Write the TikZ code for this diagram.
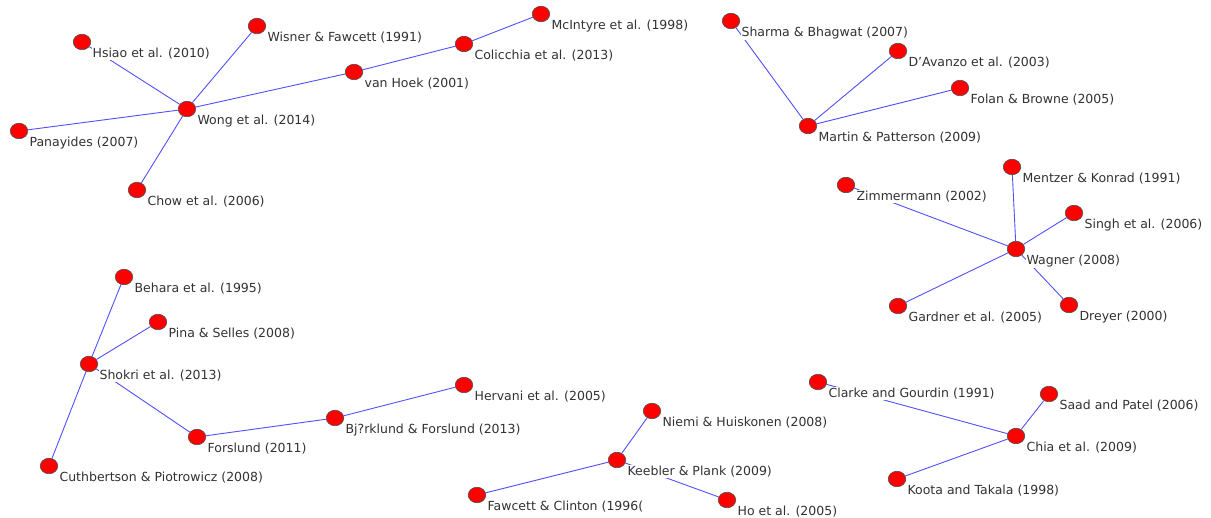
\documentclass[tikz,border=0pt]{standalone}
\usepackage{fontspec}
\setmainfont{DejaVu Sans}
\usetikzlibrary{shapes.geometric, backgrounds}
\definecolor{nodered}{RGB}{255, 0, 0}
\definecolor{edgeblue}{RGB}{80, 80, 255}
\definecolor{lblgray}{RGB}{50, 50, 50}

\begin{document}
\begin{tikzpicture}[x=1pt, y=-1pt,
        pt/.style={ellipse, draw=black!70, line width=0.6pt, fill=nodered,
                   minimum width=17.5pt, minimum height=15.5pt, inner sep=0pt},
        lbl/.style={anchor=west, fill=white, inner sep=1pt, text=lblgray,
                    font=\fontsize{12.5}{14}\selectfont, xshift=3pt, yshift=-6pt},
        edge/.style={draw=edgeblue, line width=0.9pt}]
        \useasboundingbox (0,0) rectangle (1211,518);

        % Wong cluster
        \node[pt, label={[lbl]south east:Hsiao et al. (2010)}] (hsiao) at (82,42) {};
        \node[pt, label={[lbl]south east:Wisner \& Fawcett (1991)}] (wisner) at (257,26) {};
        \node[pt, label={[lbl]south east:Wong et al. (2014)}] (wong) at (187,109) {};
        \node[pt, label={[lbl]south east:van Hoek (2001)}] (vanhoek) at (354,72) {};
        \node[pt, label={[lbl]south east:Colicchia et al. (2013)}] (colicchia) at (464,44) {};
        \node[pt, label={[lbl]south east:McIntyre et al. (1998)}] (mcintyre) at (541,14) {};
        \node[pt, label={[lbl]south east:Panayides (2007)}] (panayides) at (19,131) {};
        \node[pt, label={[lbl]south east:Chow et al. (2006)}] (chow) at (137,190) {};

        % Martin cluster
        \node[pt, label={[lbl]south east:Sharma \& Bhagwat (2007)}] (sharma) at (731,21) {};
        \node[pt, label={[lbl]south east:D'Avanzo et al. (2003)}] (davanzo) at (898,51) {};
        \node[pt, label={[lbl]south east:Folan \& Browne (2005)}] (folan) at (960,88) {};
        \node[pt, label={[lbl]south east:Martin \& Patterson (2009)}] (martin) at (808,126) {};

        % Wagner cluster
        \node[pt, label={[lbl]south east:Mentzer \& Konrad (1991)}] (mentzer) at (1012,167) {};
        \node[pt, label={[lbl]south east:Zimmermann (2002)}] (zimmermann) at (846,185) {};
        \node[pt, label={[lbl]south east:Singh et al. (2006)}] (singh) at (1074,213) {};
        \node[pt, label={[lbl]south east:Wagner (2008)}] (wagner) at (1016,249) {};
        \node[pt, label={[lbl]south east:Gardner et al. (2005)}] (gardner) at (898,306) {};
        \node[pt, label={[lbl]south east:Dreyer (2000)}] (dreyer) at (1069,305) {};

        % Shokri cluster
        \node[pt, label={[lbl]south east:Behara et al. (1995)}] (behara) at (124,277) {};
        \node[pt, label={[lbl]south east:Pina \& Selles (2008)}] (pina) at (158,322) {};
        \node[pt, label={[lbl]south east:Shokri et al. (2013)}] (shokri) at (89,364) {};
        \node[pt, label={[lbl]south east:Cuthbertson \& Piotrowicz (2008)}] (cuthbertson) at (49,466) {};
        \node[pt, label={[lbl]south east:Forslund (2011)}] (forslund) at (197,437) {};
        \node[pt, label={[lbl]south east:Bj?rklund \& Forslund (2013)}] (bjorklund) at (335,418) {};
        \node[pt, label={[lbl]south east:Hervani et al. (2005)}] (hervani) at (464,385) {};

        % Keebler cluster
        \node[pt, label={[lbl]south east:Niemi \& Huiskonen (2008)}] (niemi) at (652,411) {};
        \node[pt, label={[lbl]south east:Keebler \& Plank (2009)}] (keebler) at (617,460) {};
        \node[pt, label={[lbl]south east:Fawcett \& Clinton (1996(}] (fawcett) at (477,495) {};
        \node[pt, label={[lbl]south east:Ho et al. (2005)}] (ho) at (727,500) {};

        % Chia cluster
        \node[pt, label={[lbl]south east:Clarke and Gourdin (1991)}] (clarke) at (818,382) {};
        \node[pt, label={[lbl]south east:Saad and Patel (2006)}] (saad) at (1049,394) {};
        \node[pt, label={[lbl]south east:Chia et al. (2009)}] (chia) at (1016,436) {};
        \node[pt, label={[lbl]south east:Koota and Takala (1998)}] (koota) at (897,479) {};

        \begin{scope}[on background layer]
            \foreach \a/\b in {wong/hsiao, wong/wisner, wong/vanhoek, wong/panayides, wong/chow,
                               vanhoek/colicchia, colicchia/mcintyre,
                               martin/sharma, martin/davanzo, martin/folan,
                               wagner/mentzer, wagner/zimmermann, wagner/singh, wagner/gardner, wagner/dreyer,
                               shokri/behara, shokri/pina, shokri/cuthbertson, shokri/forslund,
                               forslund/bjorklund, bjorklund/hervani,
                               keebler/niemi, keebler/fawcett, keebler/ho,
                               chia/clarke, chia/saad, chia/koota}
                \draw[edge] (\a) -- (\b);
        \end{scope}
    \end{tikzpicture}
\end{document}
